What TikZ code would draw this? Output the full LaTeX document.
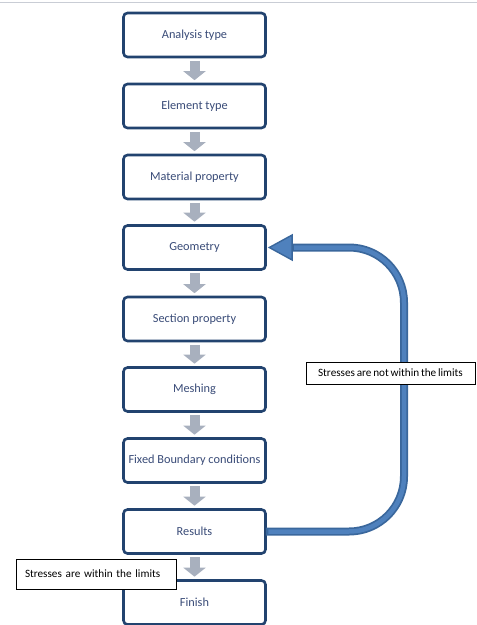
\documentclass[tikz,border=0pt]{standalone}
\usepackage{fontspec}
\setmainfont{Carlito}
\usetikzlibrary{arrows.meta}
\definecolor{boxline}{HTML}{22436F}
\definecolor{boxtext}{HTML}{3A4C78}
\definecolor{grayarrow}{HTML}{A8B0BE}
\definecolor{blueline}{HTML}{3A679C}
\definecolor{bluefill}{HTML}{4F81BD}
\definecolor{topline}{HTML}{C9CDD5}
\newcommand{\tightspace}{\spaceskip=0.16em plus 0.05em minus 0.05em\relax}
\tikzset{
  stepbox/.style={draw=boxline, line width=2.6pt, rounded corners=4pt, fill=white,
    minimum width=142pt, minimum height=44pt, inner sep=0pt,
    text=boxtext, font=\fontsize{12.3}{14}\selectfont},
  flowarrow/.style={draw=grayarrow, line width=10pt,
    -{Triangle[width=22pt,length=9pt,color=grayarrow]}, shorten <=2.5pt, shorten >=2.5pt},
  notebox/.style={draw=black, line width=0.6pt, fill=white, inner sep=0pt,
    font=\fontsize{11.2}{13}\selectfont\tightspace, text=black}
}
\begin{document}
\begin{tikzpicture}[x=1pt,y=-1pt]
\useasboundingbox (0,0) rectangle (477,625);
\coordinate (tl) at (0,2.5);
\coordinate (tr) at (477,2.5);
\draw[topline, line width=1pt] (tl) -- (tr);

\node[stepbox] (n1) at (194.5,35) {Analysis type};
\node[stepbox] (n2) at (194.5,106) {Element type};
\node[stepbox] (n3) at (194.5,177) {Material property};
\node[stepbox] (n4) at (194.5,247.5) {Geometry};
\node[stepbox] (n5) at (194.5,319) {Section property};
\node[stepbox] (n6) at (194.5,389.5) {Meshing};
\node[stepbox] (n7) at (194.5,460.5) {Fixed Boundary conditions};
\node[stepbox] (n8) at (194.5,531.5) {Results};
\node[stepbox] (n9) at (194.5,602.5) {Finish};

\foreach \a/\b in {n1/n2,n2/n3,n3/n4,n4/n5,n5/n6,n6/n7,n7/n8,n8/n9}
  \draw[flowarrow] (\a.south) -- (\b.north);

\coordinate (loopx) at (404,0);
\coordinate (headbase) at (293,247.5);
% blue loop arrow
\draw[blueline, line width=8pt, rounded corners=55pt,
  -{Triangle[width=27pt,length=25pt,line width=1.4pt,fill=bluefill,color=blueline]}]
  ([xshift=-1pt]n8.east) -- (n8.east -| loopx) -- (n4.east -| loopx) -- ([xshift=1pt]n4.east);
\draw[bluefill, line width=4.5pt, rounded corners=55pt]
  ([xshift=1.5pt]n8.east) -- (n8.east -| loopx) -- (n4.east -| loopx) -- ([xshift=1pt]headbase);

\node[notebox, minimum width=169pt, minimum height=22pt] (lab1) at (390.5,373)
  {Stresses are not within the limits};
\node[notebox, minimum width=160pt, minimum height=30pt, text width=142pt, align=left] (lab2) at (96,574)
  {Stresses are within the limits};
\end{tikzpicture}
\end{document}
